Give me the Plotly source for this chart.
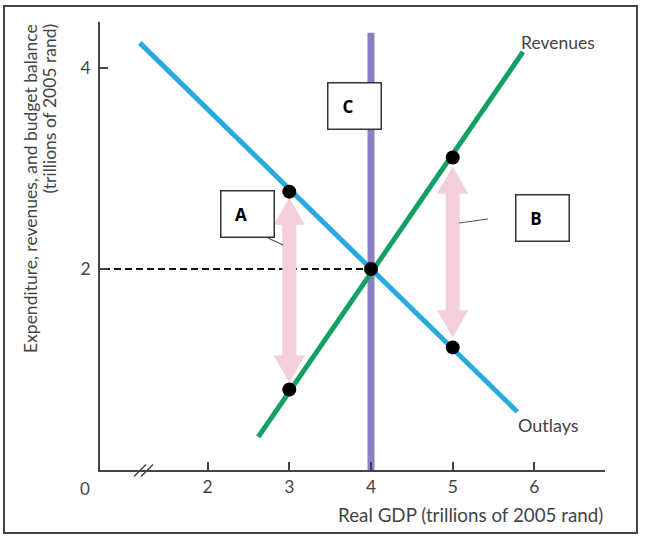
import plotly.graph_objects as go

# ---------------- data ----------------
outlays_x = [1.17, 5.79]
outlays_y = [4.25, 0.58]
revenues_x = [2.62, 5.86]
revenues_y = [0.33, 4.16]
balanced_x = [4, 4]
balanced_y = [0, 4.35]
ref_x = [0.72, 4]
ref_y = [2, 2]
dot_x = [3, 3, 4, 5, 5]
dot_y = [2.77, 0.80, 2.0, 3.11, 1.22]
arrow_x = [3, 5]
arrow_top = [2.71, 3.02]
arrow_bottom = [0.87, 1.32]
x_ticks = [2, 3, 4, 5, 6]
y_ticks = [2, 4]
box_labels = ["A", "B", "C"]

# ---------------- layout constants ----------------
W, H = 645, 540
ML, MR, MT, MB = 100, 40, 22, 70
X_RANGE = [0.683, 6.864]
Y_RANGE = [0, 4.458]
PW = W - ML - MR
PH = H - MT - MB
SX = PW / (X_RANGE[1] - X_RANGE[0])
SY = PH / (Y_RANGE[1] - Y_RANGE[0])


def dx(px):  # pixel x -> data x
    return X_RANGE[0] + (px - ML) / SX


def dy(py):  # pixel y -> data y
    return Y_RANGE[0] + (MT + PH - py) / SY


def px_(p):
    return (p - ML) / PW


def py_(p):
    return (MT + PH - p) / PH


TEXT = "#444444"
FONT = "Lato"
BLUE = "#27a9e1"
GREEN = "#12a064"
PURPLE = "#8a80c2"
PINK = "#f4cfda"

HEAD_LEN = 0.27
HEAD_HW = 0.19
SHAFT_HW = 0.086

fig = go.Figure()

# dashed reference line at y=2
fig.add_trace(go.Scatter(x=ref_x, y=ref_y, mode="lines",
                         line=dict(color="#111111", width=2, dash="7px,4px"),
                         hoverinfo="skip", showlegend=False))

# pink double arrows
for xc, yt, yb in zip(arrow_x, arrow_top, arrow_bottom):
    xs = [xc, xc + HEAD_HW, xc + SHAFT_HW, xc + SHAFT_HW, xc + HEAD_HW, xc,
          xc - HEAD_HW, xc - SHAFT_HW, xc - SHAFT_HW, xc - HEAD_HW, xc]
    ys = [yt, yt - HEAD_LEN, yt - HEAD_LEN, yb + HEAD_LEN, yb + HEAD_LEN, yb,
          yb + HEAD_LEN, yb + HEAD_LEN, yt - HEAD_LEN, yt - HEAD_LEN, yt]
    fig.add_trace(go.Scatter(x=xs, y=ys, mode="lines", fill="toself",
                             fillcolor=PINK, line=dict(width=0, color=PINK),
                             hoverinfo="skip", showlegend=False))

# balanced budget vertical line
fig.add_trace(go.Scatter(x=balanced_x, y=balanced_y, mode="lines",
                         line=dict(color=PURPLE, width=7),
                         hoverinfo="skip", showlegend=False))
# outlays
fig.add_trace(go.Scatter(x=outlays_x, y=outlays_y, mode="lines",
                         line=dict(color=BLUE, width=5),
                         name="Outlays", showlegend=False))
# revenues
fig.add_trace(go.Scatter(x=revenues_x, y=revenues_y, mode="lines",
                         line=dict(color=GREEN, width=5),
                         name="Revenues", showlegend=False))
# dots
fig.add_trace(go.Scatter(x=dot_x, y=dot_y, mode="markers",
                         marker=dict(color="#000000", size=14),
                         hoverinfo="skip", showlegend=False, cliponaxis=False))

annotations = []
# curve labels
annotations.append(dict(x=dx(519), y=dy(42), xref="x", yref="y", text="Revenues",
                        showarrow=False, xanchor="left", yanchor="middle",
                        font=dict(family=FONT, size=17.5, color=TEXT)))
annotations.append(dict(x=dx(516), y=dy(425), xref="x", yref="y", text="Outlays",
                        showarrow=False, xanchor="left", yanchor="middle",
                        font=dict(family=FONT, size=18, color=TEXT)))
# boxes
box_centers = [(247, 214), (542, 217.5), (354.5, 105.5)]
for lab, (cx, cy) in zip(box_labels, box_centers):
    annotations.append(dict(x=dx(cx), y=dy(cy), xref="x", yref="y",
                            text="<b>" + lab + "</b>&nbsp;&nbsp;&nbsp;",
                            showarrow=False, xanchor="center", yanchor="middle",
                            width=52, height=45, borderpad=0, borderwidth=1.5,
                            bordercolor="#333333", bgcolor="#ffffff",
                            font=dict(family="Open Sans", size=17, color="#000000")))
# origin label
annotations.append(dict(x=px_(85), y=py_(488), xref="paper", yref="paper", text="0",
                        showarrow=False, xanchor="center", yanchor="middle",
                        font=dict(family=FONT, size=17, color=TEXT)))
# x title
annotations.append(dict(x=px_(605), y=py_(514), xref="paper", yref="paper",
                        text="Real GDP (trillions of 2005 rand)",
                        showarrow=False, xanchor="right", yanchor="middle",
                        font=dict(family=FONT, size=18.8, color=TEXT)))
# y title (two lines, both ending at the top of the axis)
for line_text, cx in (("Expenditure, revenues, and budget balance", 30.5),
                      ("(trillions of 2005 rand)", 48.5)):
    annotations.append(dict(x=px_(cx), y=py_(22), xref="paper", yref="paper",
                            text=line_text, showarrow=False, xanchor="center",
                            yanchor="top", textangle=-90,
                            font=dict(family=FONT, size=17.5, color=TEXT)))

shapes = []
# callout lines
shapes.append(dict(type="line", xref="x", yref="y", x0=dx(268), y0=dy(238),
                   x1=dx(283), y1=dy(245), line=dict(color="#555555", width=1.2)))
shapes.append(dict(type="line", xref="x", yref="y", x0=dx(459), y0=dy(223),
                   x1=dx(488), y1=dy(219), line=dict(color="#555555", width=1.2)))
# axis break marks
for cxp in (140, 147):
    shapes.append(dict(type="line", xref="paper", yref="paper",
                       x0=px_(cxp - 6), y0=py_(476.5), x1=px_(cxp + 6), y1=py_(464.5),
                       line=dict(color="#444444", width=1.5)))
# outer frame
shapes.append(dict(type="rect", xref="paper", yref="paper",
                   x0=px_(4), y0=py_(533), x1=px_(637), y1=py_(6),
                   line=dict(color="#444444", width=2)))

fig.update_layout(
    width=W, height=H,
    margin=dict(l=ML, r=MR, t=MT, b=MB),
    paper_bgcolor="white", plot_bgcolor="white",
    showlegend=False,
    annotations=annotations,
    shapes=shapes,
    xaxis=dict(range=X_RANGE, showgrid=False, zeroline=False, showline=True,
               linecolor="#444444", linewidth=1.5, ticks="inside", ticklen=8,
               tickcolor="#444444", tickwidth=1.5, tickvals=x_ticks,
               ticktext=[str(v) for v in x_ticks],
               tickfont=dict(family=FONT, size=17.5, color=TEXT)),
    yaxis=dict(range=Y_RANGE, showgrid=False, zeroline=False, showline=True,
               linecolor="#444444", linewidth=1.5, ticks="inside", ticklen=8,
               tickcolor="#444444", tickwidth=1.5, tickvals=y_ticks,
               ticktext=[str(v) for v in y_ticks], ticklabelstandoff=4,
               tickfont=dict(family=FONT, size=17.5, color=TEXT)),
)

fig.write_html("out.html",
               config={"displayModeBar": False},
               post_script="document.body.style.margin='0';"
                           "document.body.style.overflow='hidden';")
